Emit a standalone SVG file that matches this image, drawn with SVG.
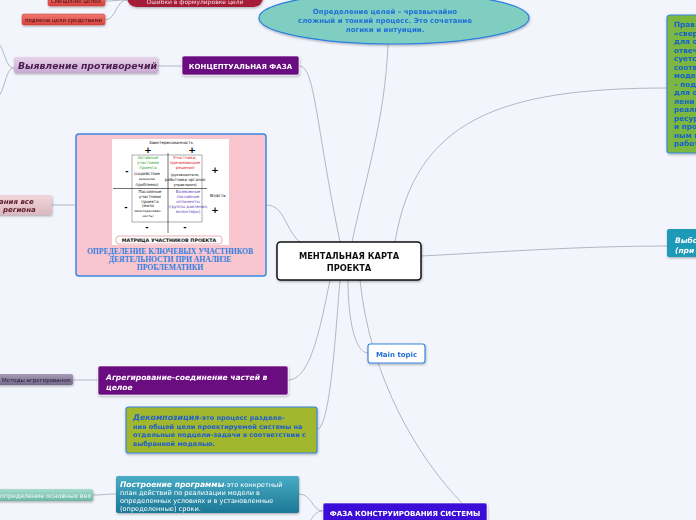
<svg xmlns="http://www.w3.org/2000/svg" width="696" height="520" viewBox="0 0 696 520">
<defs>
<style>
.c{fill:none;stroke:#b3b7c0;stroke-width:1}
.t{font-family:"DejaVu Sans",sans-serif;font-weight:bold}
.s{font-family:"DejaVu Sans",sans-serif}
.m{font-family:"DejaVu Sans",sans-serif;font-size:4px;text-anchor:middle}
</style>
<linearGradient id="gRed" x1="0" y1="0" x2="0" y2="1"><stop offset="0" stop-color="#f07a72"/><stop offset="1" stop-color="#d9403c"/></linearGradient>
<linearGradient id="gPur" x1="0" y1="0" x2="0" y2="1"><stop offset="0" stop-color="#e6d3ea"/><stop offset="1" stop-color="#c9a9d0"/></linearGradient>
<linearGradient id="gGray" x1="0" y1="0" x2="0" y2="1"><stop offset="0" stop-color="#a89cb6"/><stop offset="1" stop-color="#74678c"/></linearGradient>
<linearGradient id="gTeal" x1="0" y1="0" x2="0" y2="1"><stop offset="0" stop-color="#49acc6"/><stop offset="1" stop-color="#1b7895"/></linearGradient>
<linearGradient id="gLt" x1="0" y1="0" x2="0" y2="1"><stop offset="0" stop-color="#a6dccd"/><stop offset="1" stop-color="#6db7a6"/></linearGradient>
<linearGradient id="gPink" x1="0" y1="0" x2="0" y2="1"><stop offset="0" stop-color="#efd6da"/><stop offset="1" stop-color="#dcb8bf"/></linearGradient>
<filter id="sh" x="-10%" y="-10%" width="120%" height="130%"><feDropShadow dx="0.5" dy="1.2" stdDeviation="0.8" flood-color="#000" flood-opacity="0.3"/></filter>
</defs>
<rect width="696" height="520" fill="#f3f5fd"/>

<g id="connectors">
<path class="c" d="M105 1 C116 1 116 0 127 0"/>
<path class="c" d="M105 20 C116 20 116 0 127 0"/>
<path class="c" d="M14 68 C5 68 6 50 -4 40"/>
<path class="c" d="M14 68 C5 68 6 90 -4 100"/>
<path class="c" d="M158 66 C170 66 170 66 182 66"/>
<path class="c" d="M299 66 C315 66 315 120 340 242"/>
<path class="c" d="M388 44 C385 120 365 180 352 242"/>
<path class="c" d="M52 205 L76 205"/>
<path class="c" d="M266 205 C285 205 285 230 300 242"/>
<path class="c" d="M395 242 C415 120 500 88 667 88"/>
<path class="c" d="M421 256 C500 252 580 246 667 246"/>
<path class="c" d="M348 280 C348 320 355 353 368 353"/>
<path class="c" d="M73 380 C85 380 85 380 98 380"/>
<path class="c" d="M330 280 C320 330 310 380 288 380"/>
<path class="c" d="M340 280 C335 340 330 430 316 430"/>
<path class="c" d="M360 280 C370 380 420 460 462 503"/>
<path class="c" d="M93 495 C105 495 105 494 116 494"/>
<path class="c" d="M323 511 C312 511 312 494 299 494"/>
<path class="c" d="M323 511 C314 511 313 518 308 524"/>
</g>

<g id="n-smeshenie" filter="url(#sh)">
<rect x="48" y="-6" width="57" height="12" rx="2" fill="url(#gRed)" stroke="#c23a36" stroke-width="0.5"/>
<text class="s" x="76" y="3" font-size="5.5" text-anchor="middle" fill="#3a0a0a">Смещение целей</text>
</g>
<g id="n-podmena" filter="url(#sh)">
<rect x="22" y="14" width="83" height="11" rx="2" fill="url(#gRed)" stroke="#c23a36" stroke-width="0.5"/>
<text class="s" x="63.5" y="22" font-size="5.5" text-anchor="middle" fill="#3a0a0a">подмена цели средствами</text>
</g>
<g id="n-oshibki" filter="url(#sh)">
<rect x="127" y="-12" width="136" height="19" rx="9.5" fill="#a41a34"/>
<text class="s" x="195" y="3.5" font-size="6" text-anchor="middle" fill="#f4dde0">Ошибки в формулировке цели</text>
</g>
<g id="n-opredelenie" filter="url(#sh)">
<ellipse cx="394" cy="18" rx="135" ry="26" fill="#7fcec1" stroke="#2a7fe0" stroke-width="1.2"/>
<text class="t" font-size="7" text-anchor="middle" fill="#1e6fd8"><tspan x="385" y="14">Определение целей – чрезвычайно</tspan><tspan x="385" y="23">сложный и тонкий процесс. Это сочетание</tspan><tspan x="385" y="32">логики и интуиции.</tspan></text>
</g>

<g id="n-vyyavlenie" filter="url(#sh)">
<rect x="14" y="57" width="144" height="16" rx="2" fill="url(#gPur)"/>
<text class="t" x="18" y="68.5" font-size="9.3" font-style="italic" fill="#4a1c4e">Выявление противоречий</text>
</g>
<g id="n-konc" filter="url(#sh)">
<rect x="182" y="56" width="117" height="19" rx="2" fill="#6b0a80" stroke="#fff" stroke-width="0.6"/>
<text class="t" x="240.5" y="68.5" font-size="7" text-anchor="middle" fill="#fff">КОНЦЕПТУАЛЬНАЯ ФАЗА</text>
</g>

<g id="n-region" filter="url(#sh)">
<rect x="-10" y="195" width="62" height="20" rx="2" fill="url(#gPink)"/>
<text class="t" font-size="7" font-style="italic" fill="#5a1a2a"><tspan x="-1" y="203.5">ания все</tspan><tspan x="3" y="212">региона</tspan></text>
</g>

<g id="n-matrix">
<rect x="76" y="134" width="190" height="142" rx="3" fill="#f9c6d0" stroke="#3a86e0" stroke-width="1.5"/>
<rect x="112" y="139" width="117" height="106" fill="#ffffff"/>
<text class="m" x="171" y="143.5">Заинтересованность</text>
<text class="t" x="148" y="153" font-size="9" text-anchor="middle" fill="#000">+</text>
<text class="t" x="192" y="153" font-size="9" text-anchor="middle" fill="#000">+</text>
<rect x="132" y="155" width="70" height="67" fill="none" stroke="#777" stroke-width="0.6"/>
<line x1="168" y1="153" x2="168" y2="233" stroke="#333" stroke-width="0.7"/>
<line x1="113" y1="188.5" x2="207" y2="188.5" stroke="#333" stroke-width="0.7"/>
<text class="t" x="127" y="174" font-size="8" text-anchor="middle" fill="#000">-</text>
<text class="t" x="126" y="210" font-size="8" text-anchor="middle" fill="#000">-</text>
<text class="t" x="215" y="173" font-size="9" text-anchor="middle" fill="#000">+</text>
<text class="s" x="210" y="197" font-size="4.3" fill="#000">Власть</text>
<text class="t" x="215" y="213" font-size="9" text-anchor="middle" fill="#000">+</text>
<text class="t" x="147" y="230" font-size="8" text-anchor="middle" fill="#000">-</text>
<text class="t" x="185" y="230" font-size="8" text-anchor="middle" fill="#000">-</text>
<text class="m" fill="#2ca02c"><tspan x="148" y="159">Активные</tspan><tspan x="148" y="164">участники</tspan><tspan x="148" y="169">проекта</tspan></text>
<text class="m" fill="#111"><tspan x="147" y="175">(содействие</tspan><tspan x="147" y="180" font-size="3.3">решению</tspan><tspan x="147" y="186">проблемы)</tspan></text>
<text class="m" fill="#e02020"><tspan x="185" y="159">Участники,</tspan><tspan x="185" y="164">принимающие</tspan><tspan x="185" y="169">решения</tspan></text>
<text class="m" fill="#111"><tspan x="185" y="176" font-size="3.5">(руководители,</tspan><tspan x="185" y="181">работники органов</tspan><tspan x="185" y="186" font-size="3.5">управления)</tspan></text>
<text class="m" fill="#111"><tspan x="150" y="193">Пассивные</tspan><tspan x="150" y="198">участники</tspan><tspan x="150" y="203">проекта</tspan></text>
<text class="m" fill="#111"><tspan x="148" y="207">(мало</tspan><tspan x="148" y="212" font-size="3.3">заинтересован-</tspan><tspan x="148" y="217" font-size="3.3">ность)</tspan></text>
<text class="m" fill="#5a3ab8"><tspan x="188" y="193">Возможные</tspan><tspan x="188" y="198">пассивные</tspan><tspan x="188" y="203">оппоненты</tspan><tspan x="188" y="208">(группы давления,</tspan><tspan x="188" y="213">волонтеры)</tspan></text>
<rect x="116" y="236" width="106" height="8" rx="3" fill="#fff" stroke="#e48a9a" stroke-width="0.7"/>
<text class="t" x="169" y="242" font-size="4.8" text-anchor="middle" fill="#111">МАТРИЦА УЧАСТНИКОВ ПРОЕКТА</text>
<text font-family="Liberation Serif, serif" font-weight="bold" font-size="7.6" text-anchor="middle" fill="#2f7fe0"><tspan x="170" y="254">ОПРЕДЕЛЕНИЕ КЛЮЧЕВЫХ УЧАСТНИКОВ</tspan><tspan x="170" y="262">ДЕЯТЕЛЬНОСТИ ПРИ АНАЛИЗЕ</tspan><tspan x="170" y="270">ПРОБЛЕМАТИКИ</tspan></text>
</g>

<g id="n-center" filter="url(#sh)">
<rect x="277" y="242" width="144" height="38" rx="3.5" fill="#fff" stroke="#111" stroke-width="1.5"/>
<text class="t" font-size="8.3" text-anchor="middle" fill="#111"><tspan x="349" y="259">МЕНТАЛЬНАЯ КАРТА</tspan><tspan x="349" y="270.5">ПРОЕКТА</tspan></text>
</g>

<g id="n-green" filter="url(#sh)">
<rect x="667" y="15" width="40" height="138" rx="3" fill="#7bb840" stroke="#3a86e0" stroke-width="1.2"/>
<text class="t" font-size="7.3" fill="#1560d0"><tspan x="674" y="27">Прав</tspan><tspan x="674" y="35.5">«свер</tspan><tspan x="674" y="44">для о</tspan><tspan x="674" y="52.5">отвеч</tspan><tspan x="674" y="61">суетс</tspan><tspan x="674" y="69.5">соотв</tspan><tspan x="674" y="78">модел</tspan><tspan x="674" y="86.5">– под</tspan><tspan x="674" y="95">для о</tspan><tspan x="674" y="103.5">лени</tspan><tspan x="674" y="112">реали</tspan><tspan x="674" y="120.5">ресур</tspan><tspan x="674" y="129">и про</tspan><tspan x="674" y="137.5">ным в</tspan><tspan x="674" y="146">работ</tspan></text>
</g>

<g id="n-vybor" filter="url(#sh)">
<rect x="667" y="229" width="40" height="28" rx="2" fill="#1b9ab8"/>
<text class="t" font-size="7.5" font-style="italic" fill="#fff"><tspan x="675" y="243">Выбо</tspan><tspan x="675" y="253">(при</tspan></text>
</g>

<g id="n-main" filter="url(#sh)">
<rect x="368" y="344" width="57" height="19" rx="2.5" fill="#fff" stroke="#3a86e0" stroke-width="1.2"/>
<text class="t" x="396.5" y="356.5" font-size="7" text-anchor="middle" fill="#1f6fd0">Main topic</text>
</g>

<g id="n-metody" filter="url(#sh)">
<rect x="-6" y="374" width="79" height="11" rx="2" fill="url(#gGray)"/>
<text class="s" x="2" y="382" font-size="5.5" fill="#1a1a2a">Методы агрегирования:</text>
</g>
<g id="n-agreg" filter="url(#sh)">
<rect x="98" y="366" width="190" height="29" rx="2" fill="#6b0a80" stroke="#fff" stroke-width="0.6"/>
<text class="t" font-size="7.6" font-style="italic" fill="#fff"><tspan x="106" y="380">Агрегирование-соединение частей в</tspan><tspan x="106" y="390">целое</tspan></text>
</g>

<g id="n-dekomp" filter="url(#sh)">
<rect x="126" y="407" width="191" height="46" rx="2.5" fill="#a1b72f" stroke="#3a86e0" stroke-width="1.2"/>
<text class="t" font-size="6.6" fill="#1e5fcf"><tspan x="133" y="420"><tspan font-size="7.8" font-style="italic">Декомпозиция</tspan>-это процесс разделе-</tspan><tspan x="133" y="428.5">ния общей цели проектируемой системы на</tspan><tspan x="133" y="437">отдельные подцели-задачи в соответствии с</tspan><tspan x="133" y="445.5">выбранной моделью.</tspan></text>
</g>

<g id="n-vehi" filter="url(#sh)">
<rect x="-6" y="489" width="99" height="12" rx="2" fill="url(#gLt)"/>
<text class="s" x="0" y="497.5" font-size="6.3" fill="#f4fbf8">определение основных вех</text>
</g>
<g id="n-postr" filter="url(#sh)">
<rect x="116" y="476" width="183" height="37" rx="2" fill="url(#gTeal)"/>
<text class="s" font-size="6.6" fill="#fff"><tspan x="120" y="486.5"><tspan font-weight="bold" font-style="italic" font-size="7.6">Построение программы</tspan>-это конкретный</tspan><tspan x="120" y="494.5">план действий по реализации модели в</tspan><tspan x="120" y="502.5">определенных условиях и в установленные</tspan><tspan x="120" y="510.5">(определенные) сроки.</tspan></text>
</g>

<g id="n-faza" filter="url(#sh)">
<rect x="323" y="503" width="164" height="22" rx="2" fill="#3a10d6" stroke="#fff" stroke-width="0.6"/>
<text class="t" x="405" y="515.5" font-size="7" text-anchor="middle" fill="#fff">ФАЗА КОНСТРУИРОВАНИЯ СИСТЕМЫ</text>
</g>
</svg>
